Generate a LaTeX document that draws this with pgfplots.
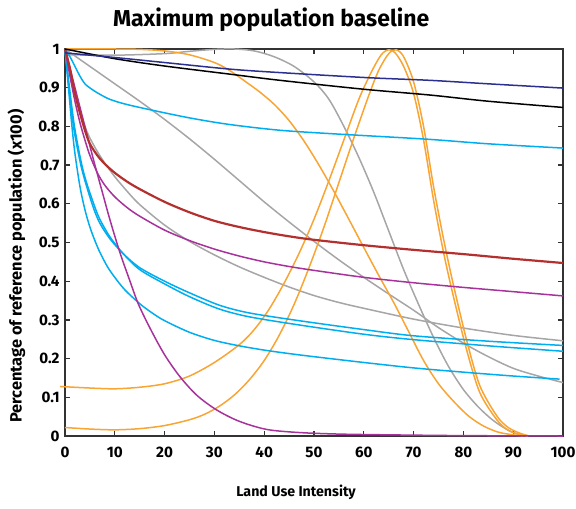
\documentclass[border=0pt]{standalone}
\usepackage{fontspec}
\setmainfont{Fira Sans}
\usepackage{pgfplots}
\pgfplotsset{compat=1.18}
\definecolor{navyline}{HTML}{2B2F8E}
\definecolor{skyline}{HTML}{00AEEF}
\definecolor{redline}{HTML}{B3302E}
\definecolor{magline}{HTML}{A8329C}
\definecolor{orgline}{HTML}{F9A533}
\definecolor{grayline}{HTML}{A6A6A6}
\definecolor{frame}{HTML}{333333}
\begin{document}
\begin{tikzpicture}
\begin{axis}[
    scale only axis,
    width=249pt, height=193.5pt,
    xmin=0, xmax=100, ymin=0, ymax=1,
    xtick={0,10,20,30,40,50,60,70,80,90,100},
    ytick={0,0.1,0.2,0.3,0.4,0.5,0.6,0.7,0.8,0.9,1},
    tick align=inside,
    major tick length=2.5pt,
    axis line style={frame, line width=0.7pt},
    tick style={frame, line width=0.6pt},
    tick label style={font=\fontsize{7.6}{8}\selectfont\bfseries, inner sep=0pt},
    /pgf/number format/assume math mode=true,
    xticklabel style={yshift=-5.2pt},
    yticklabel style={xshift=-2.5pt},
    clip=false,
    no markers,
    every axis plot/.append style={line width=0.75pt, smooth, tension=0.5},
    every axis title shift=0pt,
    title={Maximum population baseline},
    title style={at={(axis description cs:0.414,1.0576)}, anchor=base, inner sep=0pt, font=\fontsize{11.5}{14}\selectfont\bfseries},
    xlabel={Land Use Intensity},
    xlabel style={at={(axis description cs:0.464,-0.156)}, anchor=base, inner sep=0pt, font=\fontsize{7.1}{9}\selectfont\bfseries},
    ylabel={Percentage of reference population (x100)},
    ylabel style={at={(axis description cs:-0.0873,0.439)}, anchor=base, inner sep=0pt, font=\fontsize{8.2}{10}\selectfont\bfseries},
]
% bounding frame of the whole figure
\path (axis description cs:-0.1305,-0.186) rectangle (axis description cs:1.0261,1.1266);

% grey curves
\addplot[grayline] coordinates {
(0,0.985) (10,0.984) (20,0.988) (25,0.994) (30,0.999) (34,1.0) (38,0.995)
(42,0.98) (46,0.955) (50,0.915) (53,0.87) (56,0.8) (59,0.72) (62,0.63)
(65,0.53) (68,0.43) (71,0.34) (74,0.255) (77,0.18) (80,0.12) (83,0.075)
(86,0.04) (89,0.015) (91,0.005) (93,0)
};
\addplot[grayline] coordinates {
(0,1) (5,0.955) (10,0.91) (15,0.865) (20,0.818) (25,0.768) (30,0.715)
(35,0.66) (40,0.605) (45,0.553) (50,0.503) (55,0.455) (60,0.41)
(65,0.367) (70,0.325) (75,0.28) (80,0.24) (85,0.205) (90,0.175)
(95,0.155) (100,0.138)
};
\addplot[grayline] coordinates {
(0,1) (1,0.94) (2,0.885) (3,0.84) (4,0.8) (5,0.77) (6.5,0.735) (8,0.705)
(10,0.67) (12.5,0.632) (15,0.598) (20,0.545) (25,0.503) (30,0.468)
(35,0.437) (40,0.41) (45,0.385) (50,0.363) (55,0.345) (60,0.33)
(70,0.302) (80,0.279) (90,0.26) (100,0.246)
};

% orange curves
\addplot[orgline] coordinates {
(0,1) (10,1.0) (15,0.999) (20,0.995) (25,0.985) (30,0.965) (33,0.945)
(36,0.918) (39,0.89) (42,0.857) (45,0.815) (48,0.762) (51,0.7) (54,0.632)
(57,0.56) (60,0.487) (63,0.415) (66,0.345) (69,0.27) (72,0.195)
(75,0.135) (78,0.09) (81,0.052) (84,0.026) (87,0.01) (90,0.003) (92,0)
};
\addplot[orgline] coordinates {
(-1,0.128) (5,0.124) (10,0.122) (15,0.126) (20,0.135) (25,0.155)
(30,0.19) (35,0.236) (38,0.275) (41,0.328) (44,0.395) (47,0.472)
(50,0.56) (53,0.66) (56,0.765) (59,0.87) (61.5,0.94) (63.5,0.985)
(65,0.998) (66.3,0.99) (68,0.955) (70,0.885) (72,0.765) (74,0.61)
(76,0.475) (78,0.36) (80.7,0.22) (83.3,0.112) (86.7,0.042) (89,0.015)
(91.4,0.003) (93,0)
};
\addplot[orgline] coordinates {
(0,0.022) (5,0.018) (10,0.016) (15,0.019) (20,0.027) (25,0.042)
(28,0.056) (31,0.077) (34,0.106) (37,0.145) (40,0.195) (43,0.26)
(46,0.34) (49,0.435) (52,0.54) (55,0.655) (58,0.77) (61,0.88)
(63,0.945) (65,0.988) (66.5,0.998) (68,0.98) (70,0.915) (72,0.8)
(74,0.645) (76,0.51) (78,0.39) (80.7,0.245) (83.3,0.13) (86.7,0.052)
(89,0.022) (91.4,0.007) (93,0.001)
};

% light blue curves
\addplot[skyline] coordinates {
(0,1) (1,0.98) (2,0.955) (3,0.93) (4,0.91) (5.5,0.895) (7,0.883) (9,0.87)
(12,0.858) (17.1,0.843) (25,0.822) (33,0.805) (43.2,0.79) (55,0.78)
(72.6,0.767) (85,0.755) (100,0.744)
};
\addplot[skyline] coordinates {
(0,1) (0.8,0.9) (1.7,0.8) (3,0.711) (4,0.66) (5.7,0.59) (7,0.55) (9,0.51)
(11.7,0.471) (15,0.435) (20,0.4) (25,0.37) (31,0.338) (37,0.318) (47,0.298)
(60,0.275) (70,0.259) (85,0.245) (100,0.234)
};
\addplot[skyline] coordinates {
(0,1) (0.9,0.9) (1.9,0.8) (3.2,0.711) (4.2,0.66) (5.9,0.595) (7,0.56)
(9,0.515) (11.7,0.471) (15,0.43) (20,0.393) (25,0.36) (31,0.328)
(37,0.308) (47,0.287) (60,0.263) (70,0.249) (85,0.233) (100,0.219)
};
\addplot[skyline] coordinates {
(0,1) (0.7,0.9) (1.4,0.8) (2,0.73) (3,0.645) (4,0.585) (5,0.54) (6,0.505)
(7,0.475) (8.5,0.438) (10,0.41) (12,0.378) (15,0.342) (17.5,0.318)
(20,0.298) (25,0.268) (30,0.247) (35,0.233) (40,0.222) (45,0.213)
(50,0.205) (60,0.19) (70,0.176) (80,0.165) (90,0.155) (99.3,0.147)
};

% magenta curves
\addplot[magline] coordinates {
(0,1) (1,0.93) (2,0.865) (3,0.81) (4,0.765) (5,0.725) (6.5,0.68) (8,0.648)
(10,0.618) (12.5,0.59) (15,0.568) (20,0.532) (25,0.505) (30,0.483)
(35,0.465) (40,0.45) (45,0.438) (50,0.428) (60,0.41) (70,0.396)
(80,0.384) (90,0.373) (100,0.362)
};
\addplot[magline] coordinates {
(0,1) (2,0.9) (4,0.8) (5.7,0.715) (7.5,0.63) (9,0.56) (11,0.475) (13,0.402)
(14.7,0.342) (17.1,0.278) (20,0.21) (23.1,0.153) (26.5,0.105) (30.5,0.067)
(35,0.038) (40.5,0.017) (47,0.009) (55,0.005) (65,0.003) (80,0.001) (100,0)
};

% red curve
\addplot[redline, line width=1.1pt] coordinates {
(0,1) (1,0.95) (2,0.885) (3,0.835) (4,0.79) (5,0.755) (6.5,0.725)
(8,0.703) (10,0.68) (12.5,0.657) (15,0.638) (20,0.605) (25,0.578)
(30,0.556) (35,0.54) (40,0.527) (45,0.516) (50,0.507) (60,0.493)
(70,0.481) (80,0.47) (90,0.458) (100,0.447)
};

% black and navy lines
\addplot[black] coordinates {
(0,1) (10,0.975) (20,0.956) (33.1,0.935) (43.2,0.919) (60,0.896)
(73.3,0.881) (85,0.865) (100,0.849)
};
\addplot[navyline] coordinates {
(0,0.99) (10,0.978) (20,0.965) (33.1,0.948) (43.2,0.939) (60.6,0.926)
(73.3,0.919) (85,0.91) (100,0.899)
};
\end{axis}
\end{tikzpicture}
\end{document}
